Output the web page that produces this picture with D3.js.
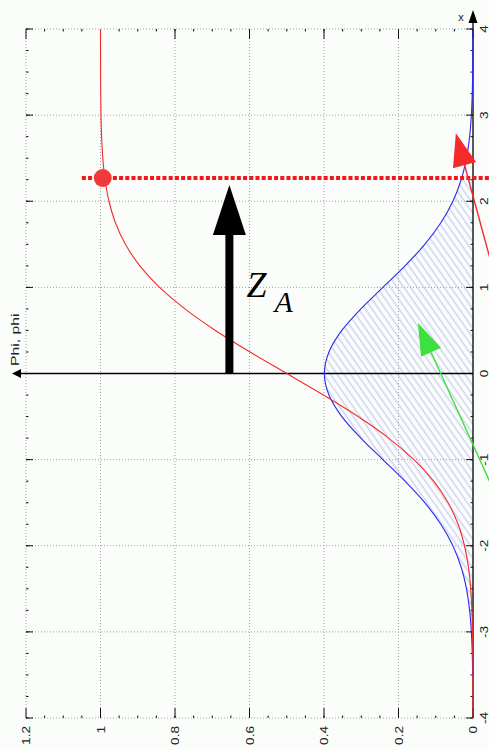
<!DOCTYPE html>
<html>
<head>
<meta charset="utf-8">
<script src="https://cdn.jsdelivr.net/npm/d3@7"></script>
<style>
  html, body { margin: 0; padding: 0; background: #fbfdfb; }
  svg { display: block; }
</style>
</head>
<body>
<svg id="chart" width="489" height="750"></svg>
<script>
// Standard normal density and distribution, sampled every 0.25 along x.
const xs = [-4, -3.75, -3.5, -3.25, -3, -2.75, -2.5, -2.25, -2, -1.75, -1.5, -1.25, -1, -0.75, -0.5, -0.25,
            0, 0.25, 0.5, 0.75, 1, 1.25, 1.5, 1.75, 2, 2.25, 2.5, 2.75, 3, 3.25, 3.5, 3.75, 4];
const phiValues = [0.0001, 0.0004, 0.0009, 0.0020, 0.0044, 0.0091, 0.0175, 0.0317, 0.0540, 0.0863, 0.1295,
                   0.1826, 0.2420, 0.3011, 0.3521, 0.3867, 0.3989, 0.3867, 0.3521, 0.3011, 0.2420, 0.1826,
                   0.1295, 0.0863, 0.0540, 0.0317, 0.0175, 0.0091, 0.0044, 0.0020, 0.0009, 0.0004, 0.0001];
const PhiValues = [0.0000, 0.0001, 0.0002, 0.0006, 0.0013, 0.0030, 0.0062, 0.0122, 0.0228, 0.0401, 0.0668,
                   0.1056, 0.1587, 0.2266, 0.3085, 0.4013, 0.5000, 0.5987, 0.6915, 0.7734, 0.8413, 0.8944,
                   0.9332, 0.9599, 0.9772, 0.9878, 0.9938, 0.9970, 0.9987, 0.9994, 0.9998, 0.9999, 1.0000];

// Axis ticks and labels
const xTicks = [-4, -3, -2, -1, 0, 1, 2, 3, 4];
const xTickLabels = ["-4", "-3", "-2", "-1", "0", "1", "2", "3", "4"];
const valueTicks = [0, 0.2, 0.4, 0.6, 0.8, 1, 1.2];
const valueTickLabels = ["0", "0.2", "0.4", "0.6", "0.8", "1", "1.2"];

// Critical value z_A, the marker on the distribution curve and the annotation arrows
const zA = 2.27;
const zAMarker = [2.27, 0.994];            // [x, value]
const zALineSpan = [1.05, -0.06];          // value range of the dotted line
const zAArrow = { value: 0.654, from: 0, to: 2.19 };
const redArrow = { tail: [0.79, -0.08], tip: [2.79, 0.046] };    // [x, value]
const greenArrow = { tail: [-1.59, -0.08], tip: [0.586, 0.148] };

const svg = d3.select("#chart");
const W = 489, H = 750;

// x runs upward, the function value runs leftward
const y = d3.scaleLinear().domain([-4, 4]).range([718, 29]);
const v = d3.scaleLinear().domain([0, 1.2]).range([473, 26]);

const defs = svg.append("defs");
const pat = defs.append("pattern")
  .attr("id", "hatch").attr("patternUnits", "userSpaceOnUse")
  .attr("width", 5.5).attr("height", 10)
  .attr("patternTransform", "rotate(-35)");
pat.append("line").attr("x1", 1).attr("y1", 0).attr("x2", 1).attr("y2", 10)
  .attr("stroke", "#b9c1ef").attr("stroke-width", 1);
defs.append("clipPath").attr("id", "belowZ")
  .append("rect").attr("x", 0).attr("width", W)
  .attr("y", y(zA)).attr("height", y(-4) - y(zA));

const pdfPts = xs.map((x, i) => [x, phiValues[i]]);
const cdfPts = xs.map((x, i) => [x, PhiValues[i]]);

// Hatched area under the density up to z_A
svg.append("path")
  .datum(pdfPts)
  .attr("clip-path", "url(#belowZ)")
  .attr("fill", "url(#hatch)")
  .attr("d", d3.area().curve(d3.curveMonotoneY)
    .y(d => y(d[0])).x0(v(0)).x1(d => v(d[1])));

// Dotted grid
const grid = svg.append("g").attr("stroke", "#a2a2a2").attr("stroke-width", 1)
  .attr("stroke-dasharray", "1,2");
grid.selectAll("line.h").data(xTicks).join("line")
  .attr("x1", v(1.2)).attr("x2", v(0)).attr("y1", d => y(d)).attr("y2", d => y(d));
grid.selectAll("line.v").data(valueTicks.filter(d => d > 0)).join("line")
  .attr("x1", d => v(d)).attr("x2", d => v(d)).attr("y1", y(4)).attr("y2", y(-4));

// Tick marks
const ticks = svg.append("g").attr("stroke", "#111").attr("stroke-width", 1);
const minorV = d3.range(0, 24).map(i => i * 0.05);
const minorX = d3.range(-16, 17).map(i => i * 0.25);
[y(-4), y(4)].forEach((yy, k) => {
  const dir = k === 0 ? -1 : 1;
  ticks.append("g").selectAll("line").data(minorV).join("line")
    .attr("x1", d => v(d)).attr("x2", d => v(d))
    .attr("y1", yy).attr("y2", yy + dir * 2.5);
  ticks.append("g").selectAll("line").data(valueTicks).join("line")
    .attr("x1", d => v(d)).attr("x2", d => v(d))
    .attr("y1", yy).attr("y2", yy + dir * 10);
});
[v(1.2), v(0)].forEach((xx, k) => {
  const dir = k === 0 ? 1 : -1;
  ticks.append("g").selectAll("line").data(minorX).join("line")
    .attr("y1", d => y(d)).attr("y2", d => y(d))
    .attr("x1", xx).attr("x2", xx + dir * 2.5);
  ticks.append("g").selectAll("line").data(xTicks).join("line")
    .attr("y1", d => y(d)).attr("y2", d => y(d))
    .attr("x1", xx).attr("x2", xx + dir * 7);
});

// Main axes with arrow heads
svg.append("line").attr("x1", v(0)).attr("x2", v(0)).attr("y1", y(-4)).attr("y2", 20)
  .attr("stroke", "#000").attr("stroke-width", 1.3);
svg.append("path")
  .attr("d", `M${v(0)},10 L${v(0) - 4.5},23 L${v(0) + 4.5},23 Z`).attr("fill", "#000");
svg.append("line").attr("x1", v(0)).attr("x2", 18).attr("y1", y(0)).attr("y2", y(0))
  .attr("stroke", "#000").attr("stroke-width", 1.3);
svg.append("path")
  .attr("d", `M12,${y(0)} L21,${y(0) - 4.5} L21,${y(0) + 4.5} Z`).attr("fill", "#000");

// Tick labels (rotated)
const labelFont = "Liberation Sans, Arial, sans-serif";
svg.append("g").selectAll("text").data(xTicks).join("text")
  .attr("transform", d => `translate(487.5,${y(d)}) rotate(-90) scale(1.3,1)`)
  .attr("text-anchor", "middle")
  .attr("font-family", labelFont).attr("font-size", 10.5).attr("fill", "#222")
  .text((d, i) => xTickLabels[i]);
svg.append("g").selectAll("text").data(valueTicks).join("text")
  .attr("transform", d => `translate(${v(d) + 4},726) rotate(-90) scale(1.3,1)`)
  .attr("text-anchor", "end")
  .attr("font-family", labelFont).attr("font-size", 10.5).attr("fill", "#222")
  .text((d, i) => valueTickLabels[i]);

// Axis titles
svg.append("text")
  .attr("transform", `translate(18.5,366) rotate(-90) scale(1.5,1)`)
  .attr("font-family", labelFont).attr("font-size", 10.5).attr("fill", "#222")
  .text("Phi, phi");
svg.append("text")
  .attr("x", 461).attr("y", 21).attr("text-anchor", "middle")
  .attr("font-family", labelFont).attr("font-size", 11).attr("fill", "#222")
  .text("x");

// Curves: density (blue), distribution (red)
svg.append("path")
  .datum(pdfPts.filter(d => d[0] >= -3.5))
  .attr("fill", "none").attr("stroke", "#2a2af5").attr("stroke-width", 1.1)
  .attr("d", d3.line().curve(d3.curveMonotoneY).y(d => y(d[0])).x(d => v(d[1])));
svg.append("path")
  .datum(cdfPts)
  .attr("fill", "none").attr("stroke", "#f52a2a").attr("stroke-width", 1.1)
  .attr("d", d3.line().curve(d3.curveMonotoneY).y(d => y(d[0])).x(d => v(d[1])));

// z_A level: dotted line and marker
svg.append("line")
  .attr("x1", v(zALineSpan[0])).attr("x2", v(zALineSpan[1]))
  .attr("y1", y(zA)).attr("y2", y(zA))
  .attr("stroke", "#f01818").attr("stroke-width", 4).attr("stroke-dasharray", "4,2.2");
svg.append("circle")
  .attr("cx", v(zAMarker[1])).attr("cy", y(zAMarker[0])).attr("r", 9)
  .attr("fill", "#f23a3a");

// Arrow helper: shaft from tail to arrowhead base, filled triangular head
function arrow(tail, tip, color, shaftW, headLen, headW) {
  const x0 = v(tail[1]), y0 = y(tail[0]), x1 = v(tip[1]), y1 = y(tip[0]);
  const len = Math.hypot(x1 - x0, y1 - y0);
  const ux = (x1 - x0) / len, uy = (y1 - y0) / len;
  const bx = x1 - ux * headLen, by = y1 - uy * headLen;
  const px = -uy, py = ux;
  svg.append("line").attr("x1", x0).attr("y1", y0).attr("x2", bx).attr("y2", by)
    .attr("stroke", color).attr("stroke-width", shaftW);
  svg.append("path")
    .attr("d", `M${x1},${y1} L${bx + px * headW / 2},${by + py * headW / 2} L${bx - px * headW / 2},${by - py * headW / 2} Z`)
    .attr("fill", color);
}

arrow(redArrow.tail, redArrow.tip, "#f52a2a", 1.4, 33, 24);
arrow(greenArrow.tail, greenArrow.tip, "#3ee03e", 1.4, 32, 22);
arrow([zAArrow.from, zAArrow.value], [zAArrow.to, zAArrow.value], "#000", 8, 50, 33);

// Z_A label
const zx = v(zAArrow.value);
svg.append("text")
  .attr("x", zx + 17).attr("y", 297)
  .attr("font-family", "Liberation Serif, Times New Roman, serif")
  .attr("font-style", "italic").attr("font-size", 36).attr("fill", "#000")
  .text("Z");
svg.append("text")
  .attr("x", zx + 45).attr("y", 312)
  .attr("font-family", "Liberation Serif, Times New Roman, serif")
  .attr("font-style", "italic").attr("font-size", 30).attr("fill", "#000")
  .text("A");
</script>
</body>
</html>
